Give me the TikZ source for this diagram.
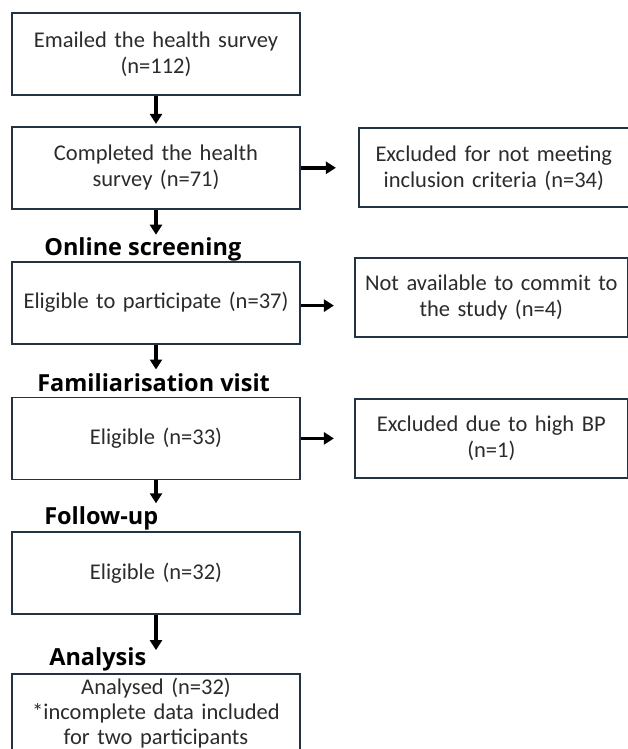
\documentclass[tikz,border=0pt]{standalone}
\usepackage{fontspec}
\setmainfont{Carlito}
\newfontfamily\stagefont{Open Sans}
\usepackage{xcolor}
\definecolor{CBorder}{HTML}{223444}
\definecolor{CText}{HTML}{2B2B2B}
\usetikzlibrary{arrows.meta,positioning}
\tikzstyle{flowNode}=[rectangle, draw=CBorder, line width=1.8pt, text=CText,
  minimum width=288pt, text width=276pt, minimum height=82pt, align=center,
  inner sep=4pt, font=\fontsize{22.5}{26}\selectfont]
\tikzstyle{exclNode}=[rectangle, draw=CBorder, line width=1.8pt, text=CText,
  minimum width=273pt, text width=263pt, minimum height=79pt, align=center,
  inner sep=4pt, font=\fontsize{22.5}{26}\selectfont]
\tikzstyle{stageLabel}=[inner sep=0pt, anchor=base west,
  font=\stagefont\bfseries\fontsize{23.5}{28}\selectfont]
\tikzstyle{arr}=[-{Triangle[length=10pt,width=12pt]}, line width=3.4pt, draw=black]

\begin{document}
\begin{tikzpicture}[x=1pt, y=-1pt, node distance=51pt]
\useasboundingbox (0,0) rectangle (627,749);
\node[flowNode] (a) at (156,54) {Emailed the health survey\\(n=112)};
\node[flowNode, below=30pt of a] (b) {Completed the health\\survey (n=71)};
\node[flowNode, below=of b] (c) {Eligible to participate (n=37)};
\node[flowNode, below=52pt of c] (d) {Eligible (n=33)};
\node[flowNode, below=of d] (e) {Eligible (n=32)};
\node[flowNode, below=58pt of e, text depth=66pt, font=\fontsize{22.5}{25}\selectfont] (f) {Analysed (n=32)\\{*}incomplete data included\\for two participants};
% exclusions on the right
\node[exclNode, right=57pt of b, minimum width=270pt, text width=260pt] (r1) {Excluded for not meeting\\inclusion criteria (n=34)};
\node[exclNode, right=53pt of c, yshift=5pt] (r2) {Not available to commit to\\the study (n=4)};
\node[exclNode, right=53pt of d] (r3) {Excluded due to high BP\\(n=1)};
% stage labels
\node[stageLabel] (l1) at ([xshift=33pt, yshift=5pt]c.north west) {Online screening};
\node[stageLabel] (l2) at ([xshift=26pt, yshift=5pt]d.north west) {Familiarisation visit};
\node[stageLabel] (l3) at ([xshift=33pt, yshift=7pt]e.north west) {Follow-up};
\node[stageLabel] (l4) at ([xshift=38pt, yshift=8pt]f.north west) {Analysis};
\draw[arr, shorten >=2pt] (a) -- (b);
\draw[arr, shorten >=26pt] (b) -- (c);
\draw[arr, shorten >=27pt] (c) -- (d);
\draw[arr, shorten >=28pt] (d) -- (e);
\draw[arr, shorten >=23pt] (e) -- (f);
\draw[arr, shorten >=22pt] (b.east) -- (b.east -| r1.west);
\draw[arr, shorten >=20pt] ([yshift=-3pt]c.east) -- ([yshift=-3pt]c.east -| r2.west);
\draw[arr, shorten >=20pt] (d.east) -- (d.east -| r3.west);
\end{tikzpicture}
\end{document}
